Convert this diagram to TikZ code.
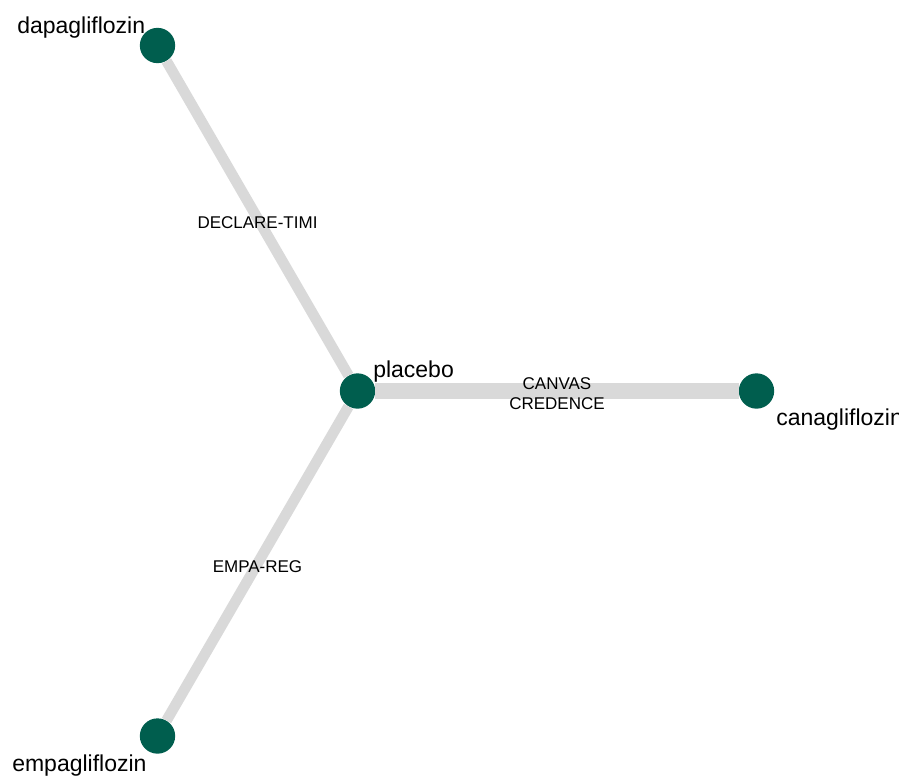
\documentclass[tikz,border=0pt]{standalone}
\usepackage{fontspec}
\setmainfont{Liberation Sans}
\usepackage{tikz}
\usetikzlibrary{positioning}
\definecolor{drugteal}{RGB}{0,94,78}
\definecolor{trialgrey}{RGB}{217,217,217}

\begin{document}
\begin{tikzpicture}[
    x=0.75pt, y=-0.75pt,
    drug/.style={circle, fill=drugteal, minimum size=26.5pt, inner sep=0pt},
    drugname/.style={anchor=base west, inner sep=0pt, font=\fontsize{17.25}{20}\selectfont},
    trial/.style={draw=trialgrey, line width=8pt},
    trialpair/.style={draw=trialgrey, line width=12pt},
    triallabel/.style={align=center, inner sep=0pt, font=\fontsize{12.75}{15.5}\selectfont}
]
    \useasboundingbox (0,0) rectangle (899,783);

    % treatments
    \node[drug] (dapa) at (157.5,45.5) {};
    \node[drug] (placebo) at (357.5,391) {};
    \node[drug] (cana) at (756.5,391) {};
    \node[drug] (empa) at (157.5,736) {};

    % trials
    \draw[trial] (placebo) -- node[triallabel, midway, yshift=-3pt] {DECLARE-TIMI} (dapa);
    \draw[trialpair] (placebo) -- node[triallabel, midway, yshift=-2pt] {CANVAS\\CREDENCE} (cana);
    \draw[trial] (placebo) -- node[triallabel, midway, yshift=-2pt] {EMPA-REG} (empa);

    % names
    \node[drugname] (dapa-name) at (17,33) {dapagliflozin};
    \node[drugname] (placebo-name) at (373,377) {placebo};
    \node[drugname] (cana-name) at (776,425) {canagliflozin};
    \node[drugname] (empa-name) at (12,771) {empagliflozin};
\end{tikzpicture}
\end{document}
